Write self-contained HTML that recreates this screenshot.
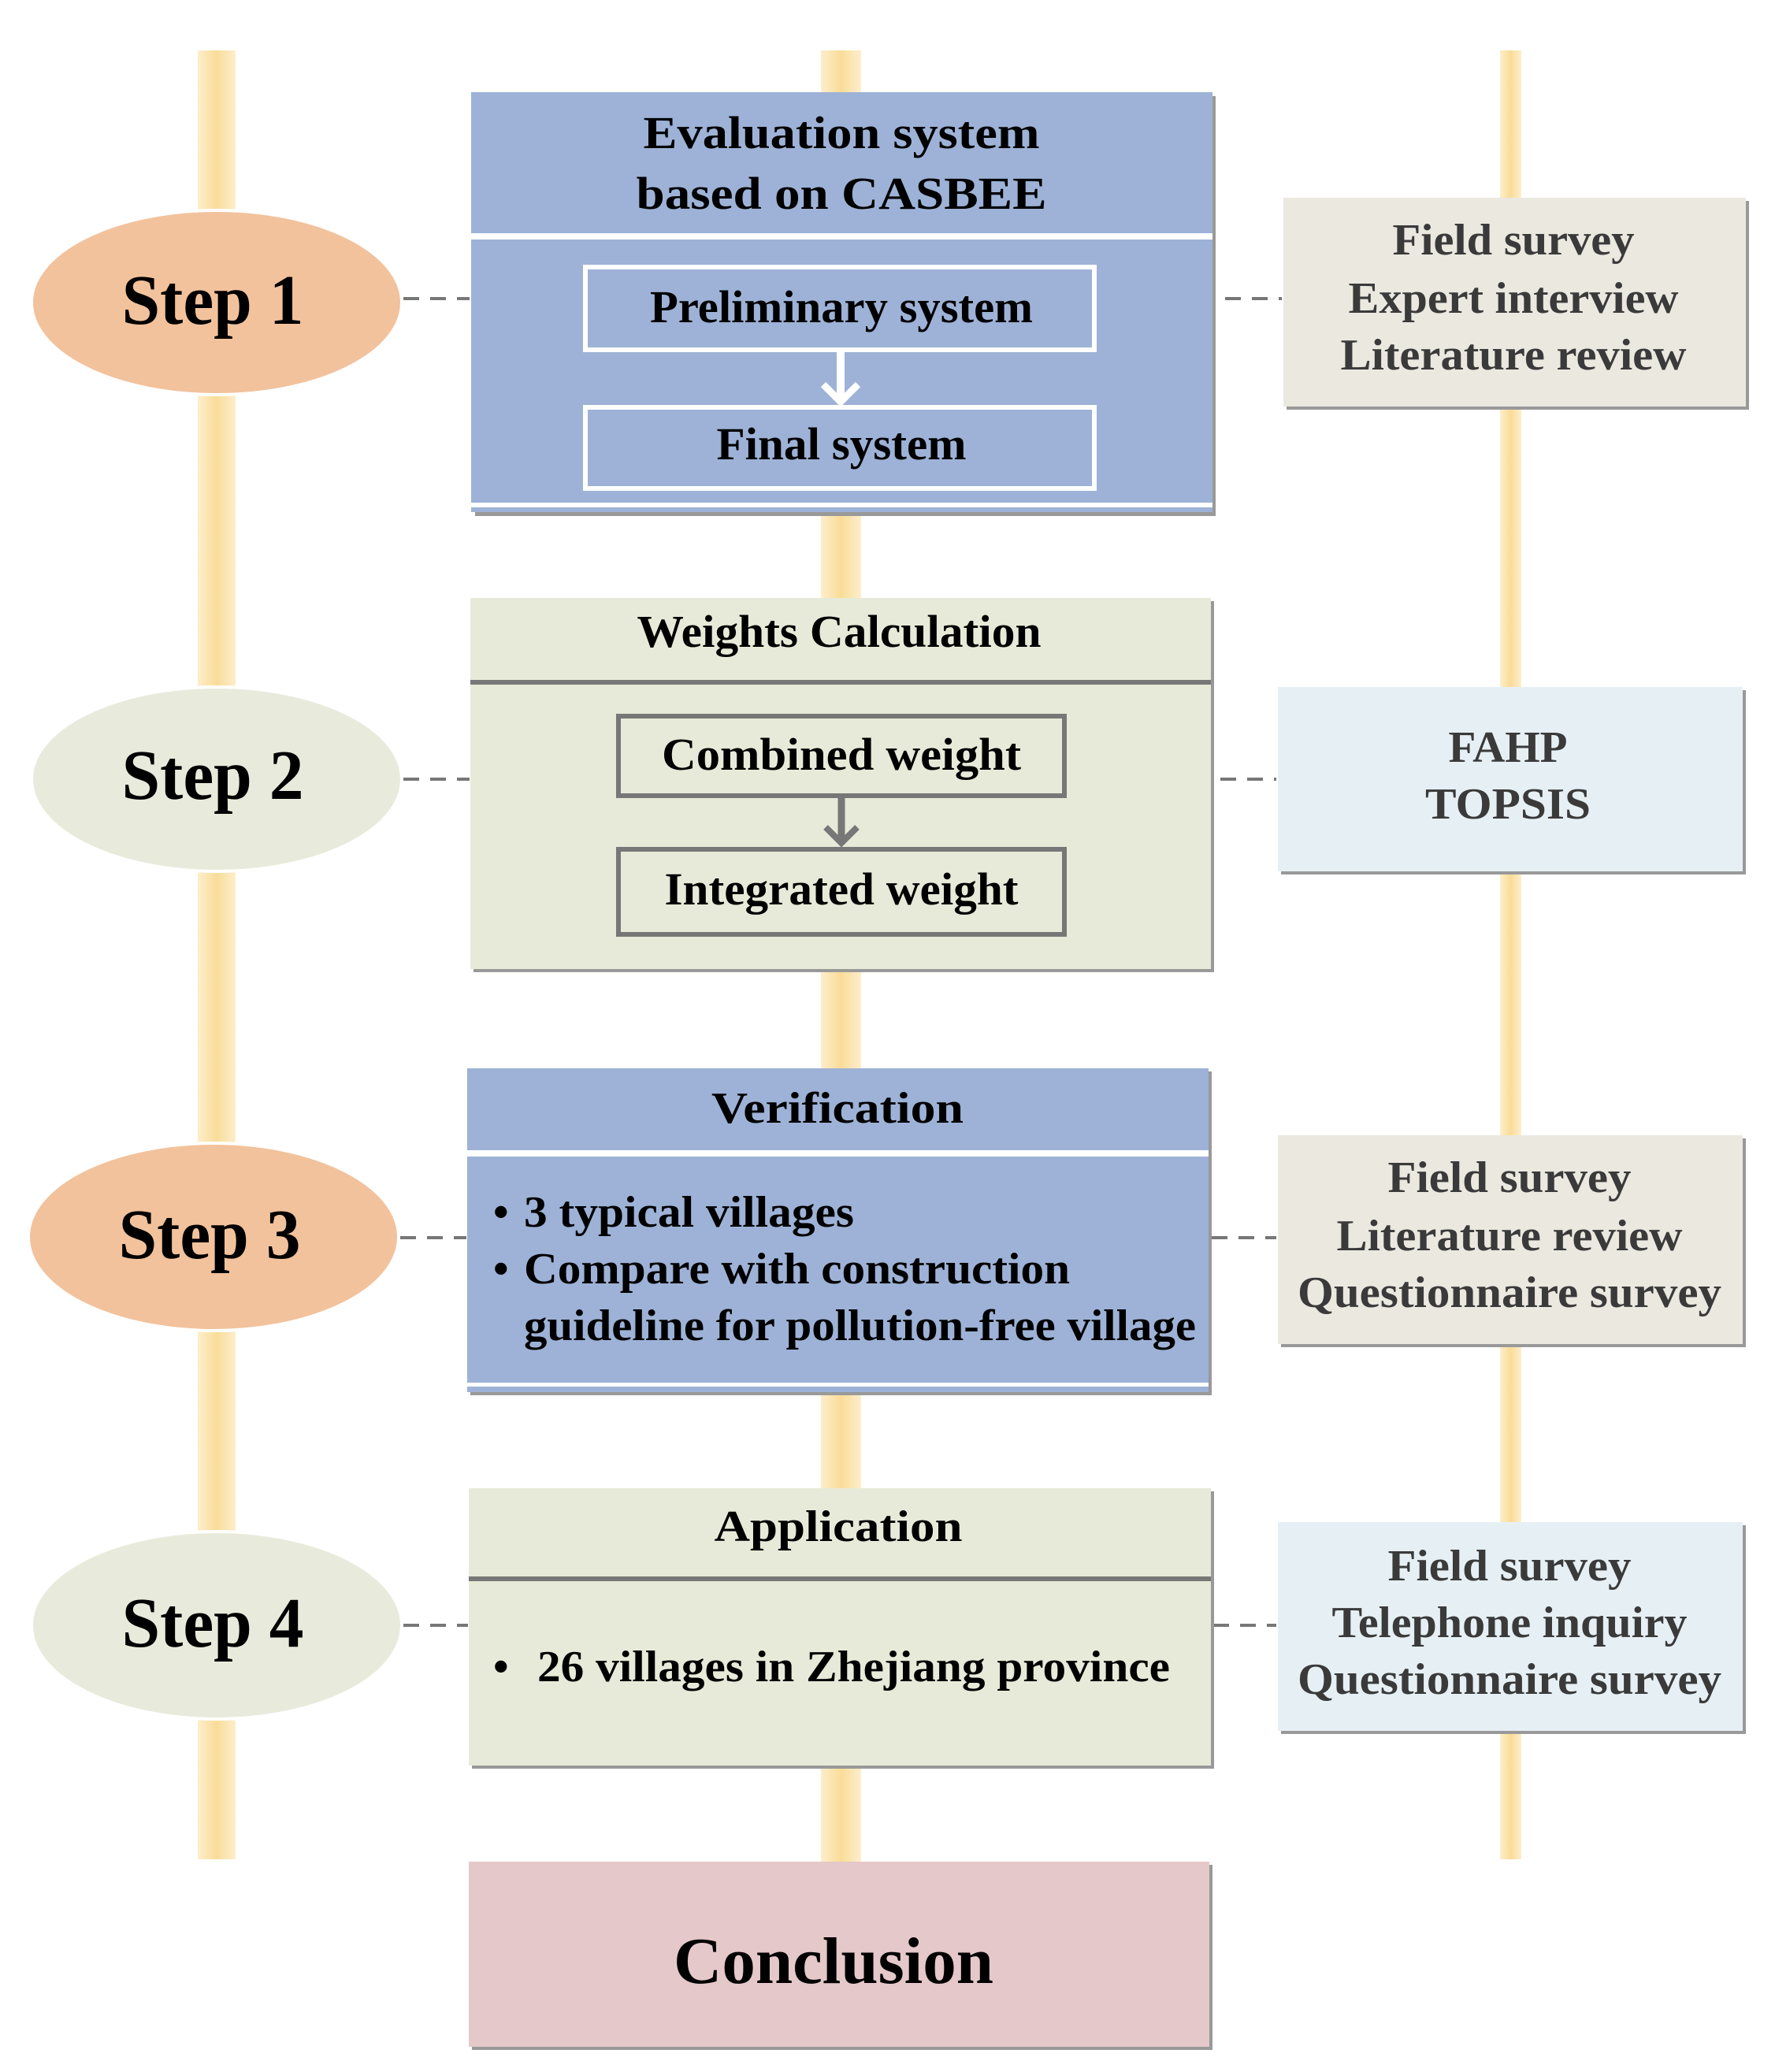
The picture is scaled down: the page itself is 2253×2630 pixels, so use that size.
<!DOCTYPE html>
<html><head><meta charset="utf-8"><style>
html,body{margin:0;padding:0;background:#fff}
svg{display:block}
text{font-family:"Liberation Serif",serif;font-weight:bold}
</style></head><body>
<svg width="2253" height="2630" viewBox="0 0 2253 2630" xmlns="http://www.w3.org/2000/svg">
<defs>
<linearGradient id="bar" x1="0" x2="1" y1="0" y2="0">
<stop offset="0" stop-color="#fdeecb"/><stop offset="0.5" stop-color="#f9dc98"/><stop offset="1" stop-color="#fdeecb"/>
</linearGradient>
</defs>
<!-- bars -->
<rect x="251" y="64" width="48" height="2296" fill="url(#bar)"/>
<rect x="1042" y="64" width="51" height="2300" fill="url(#bar)"/>
<rect x="1904" y="64" width="27" height="2296" fill="url(#bar)"/>

<!-- dashed connectors -->
<g stroke="#777" stroke-width="4" stroke-dasharray="20,14">
<line x1="512" y1="379" x2="596" y2="379"/>
<line x1="1555" y1="379" x2="1627" y2="379"/>
<line x1="512" y1="989" x2="596" y2="989"/>
<line x1="1549" y1="989" x2="1620" y2="989"/>
<line x1="508" y1="1571" x2="592" y2="1571"/>
<line x1="1538" y1="1571" x2="1620" y2="1571"/>
<line x1="512" y1="2063" x2="594" y2="2063"/>
<line x1="1540" y1="2063" x2="1620" y2="2063"/>
</g>

<!-- ellipses -->
<g stroke="#fff" stroke-width="4">
<ellipse cx="275" cy="384" rx="235" ry="117" fill="#f2c29c"/>
<ellipse cx="275" cy="989" rx="235" ry="117" fill="#e8ebdb"/>
<ellipse cx="271" cy="1570" rx="235" ry="119" fill="#f2c29c"/>
<ellipse cx="275" cy="2063" rx="235" ry="119" fill="#e8ebdb"/>
</g>
<g font-size="90" fill="#000" text-anchor="middle">
<text x="270" y="411" textLength="231" lengthAdjust="spacingAndGlyphs">Step 1</text>
<text x="270" y="1014" textLength="231" lengthAdjust="spacingAndGlyphs">Step 2</text>
<text x="266" y="1597" textLength="231" lengthAdjust="spacingAndGlyphs">Step 3</text>
<text x="270" y="2090" textLength="231" lengthAdjust="spacingAndGlyphs">Step 4</text>
</g>

<!-- Box 1 -->
<rect x="603" y="122" width="940" height="533" fill="#999"/>
<rect x="598" y="117" width="941" height="533" fill="#9db2d6"/>
<rect x="598" y="296" width="941" height="8" fill="#fff"/>
<rect x="598" y="638" width="941" height="6" fill="#fff"/>
<rect x="743" y="339" width="646" height="105" fill="none" stroke="#fff" stroke-width="6"/>
<rect x="743" y="517" width="646" height="103" fill="none" stroke="#fff" stroke-width="6"/>
<line x1="1067" y1="447" x2="1067" y2="508" stroke="#fff" stroke-width="10"/>
<polyline points="1045,488 1067,510 1089,488" fill="none" stroke="#fff" stroke-width="9"/>
<g font-size="58" fill="#000" text-anchor="middle">
<text x="1068" y="188" textLength="503" lengthAdjust="spacingAndGlyphs">Evaluation system</text>
<text x="1068" y="265" textLength="521" lengthAdjust="spacingAndGlyphs">based on CASBEE</text>
<text x="1068" y="409" textLength="486" lengthAdjust="spacingAndGlyphs">Preliminary system</text>
<text x="1068" y="583" textLength="317" lengthAdjust="spacingAndGlyphs">Final system</text>
</g>

<!-- Right 1 -->
<rect x="1633" y="255" width="587" height="265" fill="#999"/>
<rect x="1629" y="251" width="587" height="265" fill="#ebe8e0"/>
<g font-size="56" fill="#3a3a3a" text-anchor="middle">
<text x="1921" y="323" textLength="307" lengthAdjust="spacingAndGlyphs">Field survey</text>
<text x="1921" y="397" textLength="419" lengthAdjust="spacingAndGlyphs">Expert interview</text>
<text x="1921" y="469" textLength="439" lengthAdjust="spacingAndGlyphs">Literature review</text>
</g>

<!-- Box 2 -->
<rect x="601" y="763" width="940" height="471" fill="#999"/>
<rect x="597" y="759" width="940" height="471" fill="#e7ead8"/>
<rect x="597" y="863" width="940" height="6" fill="#777"/>
<rect x="785" y="909" width="566" height="101" fill="none" stroke="#777" stroke-width="6"/>
<rect x="785" y="1078" width="566" height="108" fill="none" stroke="#777" stroke-width="6"/>
<line x1="1068" y1="1013" x2="1068" y2="1068" stroke="#777" stroke-width="9"/>
<polyline points="1048,1050 1068,1070 1088,1050" fill="none" stroke="#777" stroke-width="8"/>
<g font-size="58" fill="#000" text-anchor="middle">
<text x="1065" y="821" textLength="513" lengthAdjust="spacingAndGlyphs">Weights Calculation</text>
<text x="1068" y="977" textLength="456" lengthAdjust="spacingAndGlyphs">Combined  weight</text>
<text x="1068" y="1148" textLength="449" lengthAdjust="spacingAndGlyphs">Integrated weight</text>
</g>

<!-- Right 2 -->
<rect x="1626" y="876" width="590" height="234" fill="#999"/>
<rect x="1622" y="872" width="590" height="234" fill="#e6f0f4"/>
<g font-size="56" fill="#3a3a3a" text-anchor="middle">
<text x="1914" y="967" textLength="151" lengthAdjust="spacingAndGlyphs">FAHP</text>
<text x="1914" y="1039" textLength="210" lengthAdjust="spacingAndGlyphs">TOPSIS</text>
</g>

<!-- Box 3 -->
<rect x="597" y="1360" width="941" height="411" fill="#999"/>
<rect x="593" y="1356" width="941" height="411" fill="#9db2d6"/>
<rect x="593" y="1460" width="941" height="8" fill="#fff"/>
<rect x="593" y="1755" width="941" height="5" fill="#fff"/>
<g font-size="56" fill="#000">
<text x="1063" y="1425" text-anchor="middle" textLength="320" lengthAdjust="spacingAndGlyphs">Verification</text>
<text x="626" y="1557">•</text>
<text x="665" y="1557" textLength="419" lengthAdjust="spacingAndGlyphs">3 typical villages</text>
<text x="626" y="1629">•</text>
<text x="665" y="1629" textLength="693" lengthAdjust="spacingAndGlyphs">Compare with construction</text>
<text x="665" y="1701" textLength="853" lengthAdjust="spacingAndGlyphs">guideline for pollution-free village</text>
</g>

<!-- Right 3 -->
<rect x="1626" y="1445" width="590" height="265" fill="#999"/>
<rect x="1622" y="1441" width="590" height="265" fill="#ebe8e0"/>
<g font-size="56" fill="#3a3a3a" text-anchor="middle">
<text x="1916" y="1513" textLength="309" lengthAdjust="spacingAndGlyphs">Field survey</text>
<text x="1916" y="1587" textLength="439" lengthAdjust="spacingAndGlyphs">Literature review</text>
<text x="1916" y="1659" textLength="538" lengthAdjust="spacingAndGlyphs">Questionnaire survey</text>
</g>

<!-- Box 4 -->
<rect x="599" y="1893" width="942" height="352" fill="#999"/>
<rect x="595" y="1889" width="942" height="352" fill="#e7ead8"/>
<rect x="595" y="2001" width="942" height="6" fill="#777"/>
<g font-size="56" fill="#000">
<text x="1064" y="1956" text-anchor="middle" textLength="315" lengthAdjust="spacingAndGlyphs">Application</text>
<text x="626" y="2134">•</text>
<text x="682" y="2134" textLength="803" lengthAdjust="spacingAndGlyphs">26 villages in Zhejiang province</text>
</g>

<!-- Right 4 -->
<rect x="1626" y="1936" width="590" height="265" fill="#999"/>
<rect x="1622" y="1932" width="590" height="265" fill="#e6f0f4"/>
<g font-size="56" fill="#3a3a3a" text-anchor="middle">
<text x="1916" y="2006" textLength="309" lengthAdjust="spacingAndGlyphs">Field survey</text>
<text x="1916" y="2078" textLength="451" lengthAdjust="spacingAndGlyphs">Telephone inquiry</text>
<text x="1916" y="2150" textLength="538" lengthAdjust="spacingAndGlyphs">Questionnaire survey</text>
</g>

<!-- Conclusion -->
<rect x="599" y="2367" width="940" height="235" fill="#999"/>
<rect x="595" y="2363" width="940" height="235" fill="#e5c8c9"/>
<text x="1058" y="2517" font-size="84" fill="#000" text-anchor="middle" textLength="406" lengthAdjust="spacingAndGlyphs">Conclusion</text>
</svg>
</body></html>
